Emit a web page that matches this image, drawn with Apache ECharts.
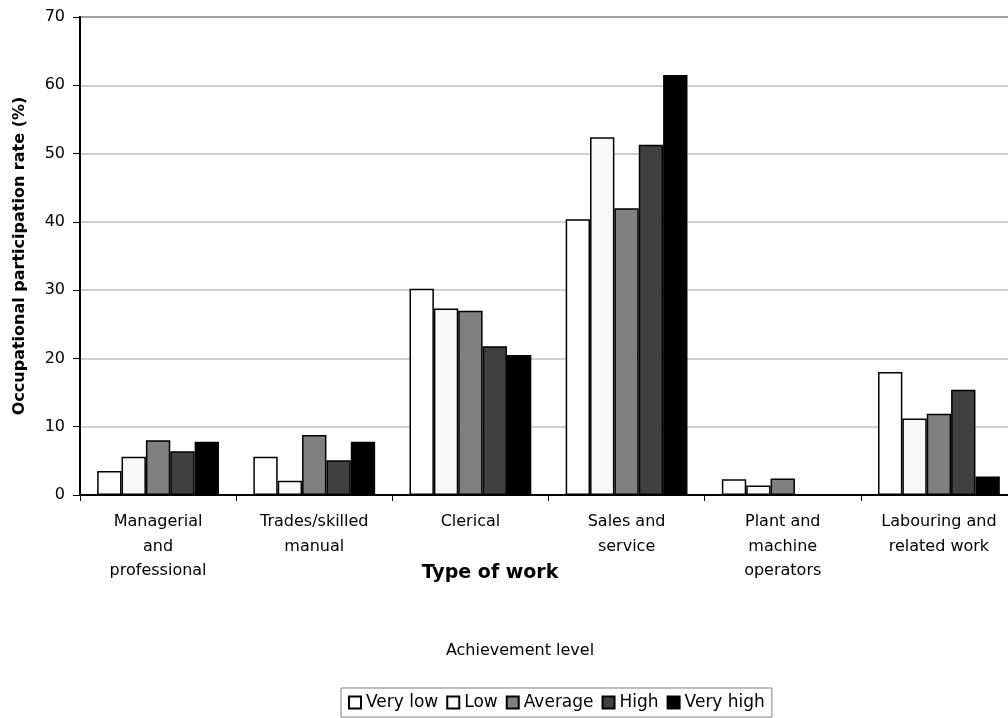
<!DOCTYPE html>
<html><head><meta charset="utf-8">
<script src="https://cdn.jsdelivr.net/npm/echarts@6/dist/echarts.min.js"></script>
<style>html,body{margin:0;padding:0;background:#fff;overflow:hidden}#c{width:1020px;height:718px}</style>
</head><body><div id="c"></div>
<script>
const categories = ['Managerial\nand\nprofessional','Trades/skilled\nmanual','Clerical','Sales and\nservice','Plant and\nmachine\noperators','Labouring and\nrelated work'];
const seriesNames = ['Very low','Low','Average','High','Very high'];
const veryLow = [3.5, 5.6, 30.2, 40.4, 2.3, 18.0];
const low = [5.6, 2.1, 27.3, 52.4, 1.4, 11.2];
const average = [8.0, 8.8, 27.0, 42.0, 2.4, 11.9];
const high = [6.4, 5.1, 21.8, 51.3, 0, 15.4];
const veryHigh = [7.8, 7.8, 20.5, 61.5, 0, 2.7];
const yTicks = [0,10,20,30,40,50,60,70];
const colors = ['#ffffff','#f8f8f8','#808080','#404040','#000000'];
const values = [veryLow, low, average, high, veryHigh];

const font = '"DejaVu Sans", Arial, sans-serif';
const chart = echarts.init(document.getElementById('c'));
chart.setOption({
  animation:false,
  backgroundColor:'#fff',
  textStyle:{fontFamily:font},
  grid:{left:80, top:17, bottom:223, right:3, show:true, borderColor:'#000', borderWidth:1.5},
  legend:{
    data:seriesNames, left:341, top:688, orient:'horizontal',
    itemWidth:12, itemHeight:12, itemGap:8,
    borderColor:'#808080', borderWidth:1, padding:[6,7,6,7],
    textStyle:{fontSize:17, color:'#000', fontFamily:font},
    icon:'rect'
  },
  graphic:[
    {type:'text', x:490, y:573, style:{text:'Type of work', font:'bold 19px '+font, fill:'#000', textAlign:'center', textVerticalAlign:'middle'}},
    {type:'text', x:520, y:651, style:{text:'Achievement level', font:'16px '+font, fill:'#000', textAlign:'center', textVerticalAlign:'middle'}}
  ],
  xAxis:{
    type:'category', data:categories,
    axisLine:{lineStyle:{color:'#000', width:2}},
    axisTick:{show:true, length:6, lineStyle:{color:'#000'}},
    axisLabel:{interval:0, fontSize:16, color:'#000', lineHeight:24.5, margin:15, fontFamily:font}
  },
  yAxis:{
    type:'value', min:0, max:70, interval:10,
    name:'Occupational participation rate (%)', nameLocation:'middle', nameGap:52,
    nameTextStyle:{fontSize:16, fontWeight:'bold', color:'#000', fontFamily:font},
    axisLine:{show:true, lineStyle:{color:'#000', width:2}},
    axisTick:{show:true, length:7, lineStyle:{color:'#000'}},
    axisLabel:{fontSize:16, color:'#000', margin:15, fontFamily:font,
      formatter:v=>yTicks.includes(v)?String(v):''},
    splitLine:{lineStyle:{color:'#c0c0c0', width:1.5}}
  },
  series: seriesNames.map((n,i)=>({
    name:n, type:'bar', data:values[i],
    barGap:'0%', barCategoryGap:'22%',
    itemStyle:{color:colors[i], borderColor:'#000', borderWidth:1.5}
  }))
});
</script></body></html>
